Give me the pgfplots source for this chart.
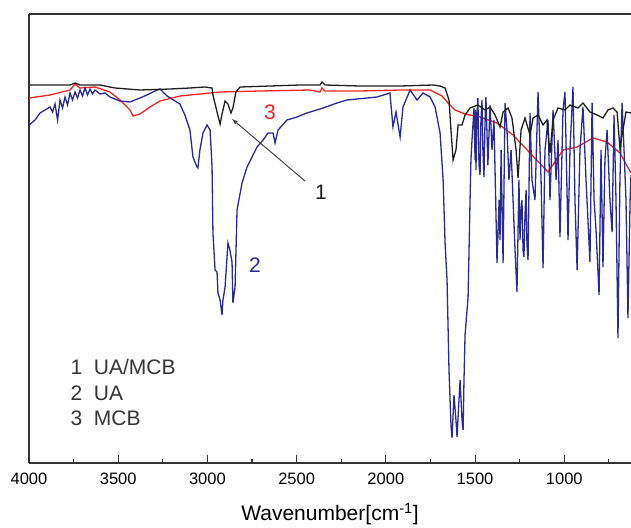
\documentclass[border=0pt]{standalone}
\usepackage{fontspec}
\setmainfont{Liberation Sans}
\usepackage{pgfplots}
\pgfplotsset{compat=1.18}
\definecolor{cblack}{HTML}{1E1E1E}
\definecolor{cred}{HTML}{F52222}
\definecolor{cblue}{HTML}{2A2A95}
\definecolor{cgray}{HTML}{444444}
\begin{document}
\begin{tikzpicture}
\begin{axis}[
  scale only axis,
  width=602pt, height=449pt,
  x dir=reverse,
  xmin=626, xmax=4000,
  y dir=reverse,
  ymin=14, ymax=463,
  axis x line*=box,
  axis y line*=left,
  axis line style={-, line width=1.2pt, draw=black!80},
  xtick={1000,1500,2000,2500,3000,3500,4000},
  minor xtick={750,1250,1750,2250,2750,3250,3750},
  xtick pos=left,
  tick align=inside,
  major tick length=8pt,
  minor tick length=4pt,
  every tick/.style={line width=1.1pt, draw=black!80},
  ytick=\empty,
  /pgf/number format/assume math mode=true,
  /pgf/number format/set thousands separator={},
  xticklabel style={font=\fontsize{16.5}{18}\selectfont, yshift=-6pt},
  xlabel={Wavenumber[cm\textsuperscript{-1}]},
  xlabel style={font=\fontsize{21}{24}\selectfont, yshift=-12pt},
  clip=true,
]
% 3 MCB (red)
\addplot[cred, line width=1.3pt] coordinates {
(4000,98) (3882,95) (3770,90) (3742,84) (3714,88) (3630,87) (3546,92) (3490,100)
(3434,110) (3417,116) (3378,114) (3322,107) (3266,101) (3154,96) (2929,92) (2705,91)
(2425,90) (2369,92) (2358,88) (2341,91) (2145,91) (1920,90) (1752,90) (1685,96)
(1652,103) (1612,110) (1556,114) (1472,117) (1377,123) (1287,135) (1192,153) (1091,172)
(1007,150) (928,147) (839,138) (760,142) (688,153) (626,173)
};
% 2 UA (blue)
\addplot[cblue, line width=1.3pt] coordinates {
(4000,125) (3966,120) (3938,113) (3910,110) (3882,107) (3868,112) (3854,104) (3840,120)
(3826,100) (3812,108) (3798,97) (3784,105) (3770,93) (3756,100) (3742,92) (3728,98)
(3714,90) (3700,96) (3686,88) (3672,95) (3658,89) (3644,94) (3630,90) (3602,94)
(3574,93) (3546,97) (3518,99) (3490,101) (3434,102) (3378,98) (3339,95) (3294,91)
(3266,89) (3226,96) (3182,101) (3154,104) (3126,115) (3098,130) (3081,157) (3070,162)
(3058,167) (3053,168) (3042,150) (3025,133) (3002,125) (2985,130) (2974,167) (2969,233)
(2957,270) (2946,272) (2941,293) (2929,300) (2918,315) (2913,300) (2901,287) (2885,243)
(2874,250) (2862,262) (2857,303) (2845,287) (2834,210) (2806,183) (2778,167) (2722,147)
(2688,140) (2660,133) (2632,133) (2621,143) (2604,130) (2554,120) (2498,117) (2442,113)
(2352,108) (2274,103) (2218,100) (2049,97) (1977,93) (1960,127) (1943,112) (1920,137)
(1904,107) (1864,90) (1825,100) (1792,93) (1752,97) (1724,107) (1696,133) (1679,180)
(1668,243) (1657,280) (1646,370) (1635,425) (1629,438) (1618,395) (1607,420) (1601,437)
(1590,400) (1584,380) (1573,420) (1567,430) (1562,380) (1556,335) (1539,297) (1528,200)
(1523,160) (1517,140) (1506,108) (1500,160) (1497,110) (1495,170) (1489,115) (1484,98)
(1478,165) (1472,175) (1467,120) (1461,100) (1456,150) (1450,177) (1444,120) (1439,97)
(1428,165) (1416,105) (1405,150) (1394,120) (1382,220) (1377,263) (1365,200)
(1360,240) (1354,150) (1343,263) (1332,103) (1321,130) (1310,180) (1298,150) (1287,200)
(1276,250) (1265,292) (1254,180) (1248,240) (1242,210) (1237,200) (1231,250) (1226,257)
(1220,215) (1214,190) (1209,245) (1203,260)
(1192,113) (1181,180) (1164,200) (1147,92) (1130,180) (1119,268) (1108,150) (1091,120)
(1080,200) (1063,110) (1046,180) (1035,140) (1024,237) (1007,110) (996,92) (979,240)
(968,150) (951,87) (940,200) (928,270) (912,150) (895,107) (878,180) (856,262)
(844,103) (833,200) (822,230) (805,295) (794,150) (783,267) (772,160) (760,130)
(744,200) (732,232) (721,115) (710,200) (699,338) (688,180) (676,103) (665,150)
(654,200) (643,318) (631,200) (626,175)
};
% 1 UA/MCB (black)
\addplot[cblack, line width=1.3pt] coordinates {
(4000,85) (3882,85) (3770,85) (3742,83) (3714,85) (3602,85) (3518,88) (3378,90)
(3210,89) (3098,88) (3014,87) (2974,88) (2969,95) (2946,112) (2929,124) (2918,114)
(2901,101) (2885,104) (2868,113) (2857,108) (2840,92) (2817,87) (2481,85) (2369,85)
(2358,82) (2341,85) (2145,86) (1920,86) (1736,85) (1696,86) (1668,88) (1646,100)
(1635,130) (1623,160) (1607,150) (1595,125) (1573,125) (1556,115) (1528,108) (1484,105)
(1444,110) (1416,107) (1388,115) (1360,127) (1343,112) (1315,108) (1293,118) (1270,150)
(1259,178) (1242,130) (1220,118) (1192,135) (1175,118) (1147,115) (1119,125) (1097,120)
(1080,153) (1063,120) (1035,108) (996,110) (968,105) (923,108) (895,103) (856,112)
(816,115) (783,118) (755,110) (727,108) (704,112) (688,148) (671,130) (654,112) (626,113)
};
% annotations
\draw[cgray, line width=1pt, -latex] (axis cs:2453,181) -- (axis cs:2862,119);
\node[font=\fontsize{21}{24}\selectfont, text=cblack] at (axis cs:2363,192) {1};
\node[font=\fontsize{21}{24}\selectfont, text=cblue] at (axis cs:2733,265) {2};
\node[font=\fontsize{21}{24}\selectfont, text=cred] at (axis cs:2649,112) {3};
\node[font=\fontsize{21}{24}\selectfont, anchor=west, text=cblack!90] at (axis cs:3787,367) {1\ \ UA/MCB};
\node[font=\fontsize{21}{24}\selectfont, anchor=west, text=cblack!90] at (axis cs:3787,393) {2\ \ UA};
\node[font=\fontsize{21}{24}\selectfont, anchor=west, text=cblack!90] at (axis cs:3787,418) {3\ \ MCB};
\end{axis}
\pgfresetboundingbox
\path ([xshift=-29pt,yshift=-65pt]current axis.south west) rectangle ([yshift=14pt]current axis.north east);
\end{tikzpicture}
\end{document}
